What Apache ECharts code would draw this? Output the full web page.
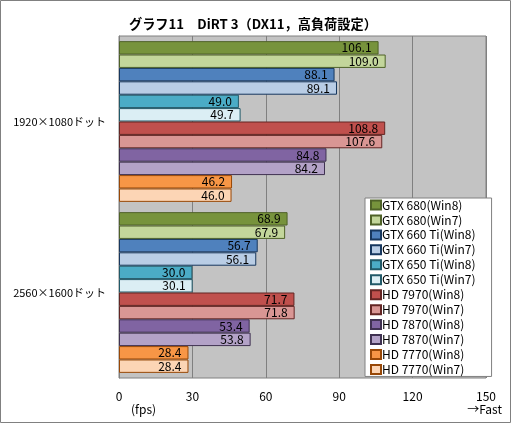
<!DOCTYPE html>
<html><head><meta charset="utf-8">
<script src="https://cdn.jsdelivr.net/npm/echarts@6/dist/echarts.min.js"></script>
<style>html,body{margin:0;padding:0;background:#fff}#c{width:512px;height:424px}</style>
</head><body><div id="c"></div>
<script>
const categories = ['1920×1080ドット', '2560×1600ドット'];
const seriesNames = ['GTX 680(Win8)','GTX 680(Win7)','GTX 660 Ti(Win8)','GTX 660 Ti(Win7)','GTX 650 Ti(Win8)','GTX 650 Ti(Win7)','HD 7970(Win8)','HD 7970(Win7)','HD 7870(Win8)','HD 7870(Win7)','HD 7770(Win8)','HD 7770(Win7)'];
const gtx680win8 = [106.1, 68.9];
const gtx680win7 = [109.0, 67.9];
const gtx660win8 = [88.1, 56.7];
const gtx660win7 = [89.1, 56.1];
const gtx650win8 = [49.0, 30.0];
const gtx650win7 = [49.7, 30.1];
const hd7970win8 = [108.8, 71.7];
const hd7970win7 = [107.6, 71.8];
const hd7870win8 = [84.8, 53.4];
const hd7870win7 = [84.2, 53.8];
const hd7770win8 = [46.2, 28.4];
const hd7770win7 = [46.0, 28.4];
const seriesValues = [gtx680win8,gtx680win7,gtx660win8,gtx660win7,gtx650win8,gtx650win7,hd7970win8,hd7970win7,hd7870win8,hd7870win7,hd7770win8,hd7770win7];
const fills = ['#77933C','#C3D69B','#4F81BD','#B9CDE5','#4BACC6','#DBEEF4','#C0504D','#D99694','#8064A2','#B3A2C7','#F79646','#FCD5B5'];
const borders = ['#4F6228','#4F6228','#17375E','#17375E','#215968','#215968','#632523','#632523','#3F3151','#3F3151','#984807','#984807'];
const FONT = '"Noto Sans CJK JP", sans-serif';

const chart = echarts.init(document.getElementById('c'), null, {renderer:'canvas'});
chart.setOption({
  animation: false,
  textStyle: {fontFamily: FONT},
  title: {text: 'グラフ11　DiRT 3（DX11，高負荷設定）', left: 124, top: 12,
    textStyle: {fontFamily: FONT, fontSize: 13.2, fontWeight: 'bold', color: '#000'}},
  graphic: [
    {type:'rect', shape:{x:0.5,y:0.5,width:510,height:422}, style:{fill:'none', stroke:'#808080', lineWidth:1}, silent:true, z:-1},
    {type:'text', left: 131, top: 403, style:{text:'(fps)', fontFamily: FONT, fontSize: 12, fill:'#000'}},
    {type:'text', right: 10, top: 403, style:{text:'→Fast', fontFamily: FONT, fontSize: 12, fill:'#000'}}
  ],
  grid: {left: 119, right: 26, top: 36, bottom: 46, show: true, backgroundColor: '#C3C3C3', borderColor: '#808080', borderWidth: 1},
  legend: {
    orient: 'vertical', left: 365, top: 198,
    data: seriesNames,
    itemWidth: 10, itemHeight: 9, itemGap: 2.95,
    padding: [1, 16, 1, 5],
    backgroundColor: '#fff', borderColor: '#808080', borderWidth: 1,
    textStyle: {fontFamily: FONT, fontSize: 12, color: '#000', padding: [0,0,0,-4]},
    icon: 'rect'
  },
  xAxis: {
    type: 'value', min: 0, max: 150, interval: 30,
    axisLine: {show: false}, axisTick: {show: false},
    axisLabel: {color: '#000', fontSize: 12, fontFamily: FONT, margin: 12},
    splitLine: {show: true, lineStyle: {color: '#808080', width: 1}}
  },
  yAxis: {
    type: 'category', data: categories, inverse: true,
    axisLine: {show: true, lineStyle: {color: '#808080'}}, axisTick: {show: false},
    axisLabel: {color: '#000', fontSize: 11, fontFamily: FONT, margin: 13}
  },
  series: seriesNames.map((n, i) => ({
    name: n, type: 'bar', data: seriesValues[i],
    barGap: '0%', barCategoryGap: '6%',
    itemStyle: {color: fills[i], borderColor: borders[i], borderWidth: 1},
    label: {show: true, position: 'insideRight', distance: 7, color: '#000', fontSize: 12, fontFamily: FONT,
      formatter: p => p.value.toFixed(1)}
  }))
});
</script></body></html>
